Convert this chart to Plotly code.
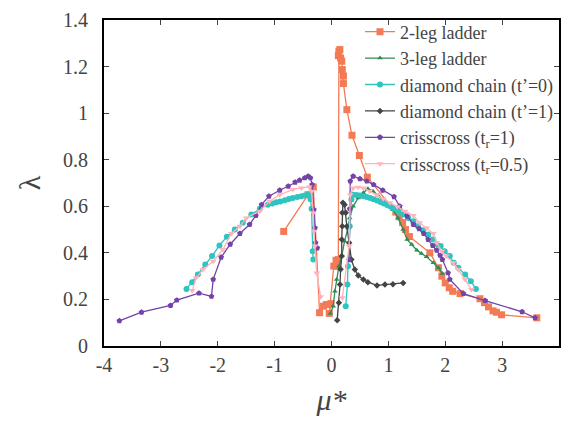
import plotly.graph_objects as go

# 2-leg ladder
x_2leg = [-0.84, -0.41, -0.32, -0.21, -0.14, -0.09, -0.01, -0.04, 0.04, 0.08, 0.10, 0.12,
          0.12, 0.13, 0.147, 0.16, 0.18, 0.19, 0.21, 0.21, 0.27, 0.36, 0.49, 0.63,
          1.13, 1.19, 1.25, 1.30, 1.37, 1.73, 1.88, 1.94, 2.00, 2.07, 2.13, 2.26,
          2.61, 2.69, 2.76, 2.84, 2.90, 2.99, 3.61]
y_2leg = [0.492, 0.650, 0.683, 0.143, 0.171, 0.178, 0.182, 0.140, 0.343, 0.368, 0.343, 0.371,
          1.247, 1.266, 1.273, 1.237, 1.223, 1.187, 1.159, 1.127, 1.015, 0.905, 0.818, 0.725,
          0.575, 0.555, 0.530, 0.500, 0.470, 0.400, 0.336, 0.300, 0.271, 0.250, 0.235, 0.225,
          0.203, 0.186, 0.168, 0.151, 0.145, 0.134, 0.121]

# 3-leg ladder
x_3leg = [-0.02, 0.03, 0.06, 0.09, 0.13, 0.18, 0.23, 0.29, 0.32, 0.38, 0.47, 0.56, 0.64,
          0.73, 0.82, 0.91, 1.00, 1.08, 1.17, 1.26, 1.33, 1.41, 1.50, 1.58, 1.67, 1.79, 1.88, 1.95]
y_3leg = [0.140, 0.171, 0.235, 0.286, 0.343, 0.386, 0.450, 0.507, 0.550, 0.600, 0.636, 0.658, 0.675,
          0.665, 0.646, 0.629, 0.607, 0.585, 0.550, 0.500, 0.457, 0.436, 0.411, 0.397, 0.383, 0.357, 0.336, 0.311]

# diamond chain (t'=0)
x_dc0 = [-2.55, -2.45, -2.35, -2.22, -2.10, -1.97, -1.84, -1.70, -1.56, -1.41, -1.26, -1.12,
         -1.04, -0.97, -0.90, -0.82, -0.75, -0.68, -0.60, -0.53, -0.47, -0.41, -0.37, -0.35, -0.33, -0.32,
         None,
         0.25, 0.28, 0.29, 0.32, 0.35, 0.38, 0.44, 0.50, 0.56, 0.62, 0.68, 0.74, 0.80, 0.86, 0.92,
         0.98, 1.04, 1.10, 1.18, 1.26, 1.35, 1.44, 1.52, 1.61, 1.70, 1.79, 1.85, 1.92, 1.99, 2.08,
         2.15, 2.23, 2.35, 2.45, 2.54]
y_dc0 = [0.245, 0.274, 0.307, 0.350, 0.386, 0.432, 0.469, 0.500, 0.529, 0.565, 0.589, 0.607,
         0.612, 0.617, 0.621, 0.626, 0.631, 0.636, 0.640, 0.643, 0.646, 0.650, 0.630, 0.589, 0.407, 0.371,
         None,
         0.171, 0.264, 0.343, 0.514, 0.629, 0.650, 0.648, 0.646, 0.643, 0.640, 0.636, 0.630, 0.625, 0.618, 0.612,
         0.605, 0.598, 0.590, 0.578, 0.565, 0.550, 0.536, 0.514, 0.497, 0.479, 0.457, 0.436, 0.429, 0.407, 0.386,
         0.357, 0.336, 0.307, 0.278, 0.245]

# diamond chain (t'=1)
x_dc1 = [0.10, 0.13, 0.15, 0.16, 0.18, 0.18, 0.19, 0.19, 0.20, 0.23, 0.25, 0.27, 0.31, 0.35,
         0.41, 0.47, 0.56, 0.64, 0.80, 0.94, 1.08, 1.26]
y_dc1 = [0.111, 0.186, 0.264, 0.330, 0.386, 0.457, 0.514, 0.572, 0.615, 0.607, 0.572, 0.514, 0.443, 0.371,
         0.328, 0.303, 0.286, 0.274, 0.260, 0.264, 0.265, 0.271]

# crisscross (tr=1)
x_cc1 = [-3.73, -3.34, -2.83, -2.72, -2.33, -2.11, -2.08, -1.94, -1.78, -1.61, -1.44, -1.33, -1.23,
         -1.10, -0.91, -0.76, -0.64, -0.56, -0.47, -0.41, -0.37, -0.34, -0.31, -0.29, -0.28, -0.25,
         None,
         0.31, 0.32, 0.33, 0.38, 0.50, 0.62, 0.74, 0.90, 1.10, 1.20, 1.33, 1.44, 1.54, 1.62, 1.70,
         1.78, 1.85, 1.91, 1.95, 2.05, 2.08, 2.32, 2.70, 3.35, 3.58]
y_cc1 = [0.108, 0.145, 0.174, 0.197, 0.227, 0.213, 0.286, 0.381, 0.437, 0.483, 0.522, 0.560, 0.607,
         0.643, 0.669, 0.686, 0.703, 0.712, 0.722, 0.729, 0.722, 0.693, 0.585, 0.507, 0.443, 0.421,
         None,
         0.370, 0.589, 0.708, 0.729, 0.718, 0.708, 0.693, 0.669, 0.641, 0.600, 0.557, 0.522, 0.503, 0.483, 0.457,
         0.431, 0.411, 0.389, 0.371, 0.314, 0.286, 0.225, 0.195, 0.147, 0.121]

# crisscross (tr=0.5)
x_cc05 = [-2.45, -2.38, -2.26, -2.08, -1.91, -1.76, -1.61, -1.50, -1.26, -1.09, -0.91, -0.68, -0.53,
          -0.39, -0.35, -0.32, -0.31, -0.29, -0.26, -0.19,
          None,
          0.19, 0.31, 0.33, 0.38, 0.47, 0.56, 0.67, 0.80, 0.91, 1.03, 1.16, 1.29, 1.44, 1.55, 1.67,
          1.79, 1.85, 1.94, 2.02, 2.14, 2.23, 2.35, 2.46]
y_cc05 = [0.238, 0.293, 0.328, 0.364, 0.414, 0.483, 0.514, 0.550, 0.579, 0.622, 0.650, 0.672, 0.679,
          0.683, 0.665, 0.572, 0.493, 0.429, 0.314, 0.211,
          None,
          0.207, 0.429, 0.650, 0.679, 0.682, 0.679, 0.665, 0.648, 0.632, 0.615, 0.598, 0.579, 0.560, 0.529, 0.507,
          0.483, 0.443, 0.407, 0.386, 0.357, 0.328, 0.286, 0.243]

# tick labels
x_tickvals = [-4, -3, -2, -1, 0, 1, 2, 3, 4]
x_ticktext = ["-4", "-3", "-2", "-1", "0", "1", "2", "3", "4"]
y_tickvals = [0, 0.2, 0.4, 0.6, 0.8, 1.0, 1.2, 1.4]
y_ticktext = ["0\u00a0\u00a0", "0.2\u00a0\u00a0", "0.4\u00a0\u00a0", "0.6\u00a0\u00a0",
              "0.8\u00a0\u00a0", "1\u00a0\u00a0", "1.2\u00a0\u00a0", "1.4\u00a0\u00a0"]

names = ["2-leg ladder", "3-leg ladder", "diamond chain (t\u2019=0)", "diamond chain (t\u2019=1)",
         "crisscross (t<sub>r</sub>=1)", "crisscross (t<sub>r</sub>=0.5)"]
xs = [x_2leg, x_3leg, x_dc0, x_dc1, x_cc1, x_cc05]
ys = [y_2leg, y_3leg, y_dc0, y_dc1, y_cc1, y_cc05]
colors = ["#f47a55", "#2e8b57", "#2ec4c0", "#444444", "#7343a8", "#ffb3ba"]
symbols = ["square", "triangle-up", "circle", "diamond", "pentagon", "triangle-down"]
sizes = [7, 5, 6, 5, 6, 6]

fig = go.Figure()
for n, x, y, c, s, sz in zip(names, xs, ys, colors, symbols, sizes):
    fig.add_trace(go.Scatter(x=x, y=y, name=n, mode="lines+markers",
                             line=dict(color=c, width=1.3),
                             marker=dict(color=c, symbol=s, size=sz)))

fig.update_layout(
    template="none",
    width=555, height=416,
    margin=dict(l=96, r=4, t=12, b=78),
    font=dict(family="Liberation Serif"),
    legend=dict(x=1.0, xanchor="right", y=1.02, yanchor="top",
                bgcolor="rgba(0,0,0,0)",
                font=dict(size=18, family="Liberation Serif")),
    xaxis=dict(range=[-4, 4], tickvals=x_tickvals, ticktext=x_ticktext,
               ticks="inside", ticklen=5,
               showline=True, linecolor="black", linewidth=2, mirror="ticks",
               showgrid=False, zeroline=False,
               tickfont=dict(size=20, family="Liberation Serif"),
               title=dict(text="<i>\u03bc*</i>", font=dict(size=30, family="Liberation Serif"),
                          standoff=14)),
    yaxis=dict(range=[0, 1.4], tickvals=y_tickvals, ticktext=y_ticktext,
               ticks="inside", ticklen=5,
               showline=True, linecolor="black", linewidth=2, mirror="ticks",
               showgrid=False, zeroline=False,
               tickfont=dict(size=20, family="Liberation Serif"),
               title=dict(text="\u03bb", font=dict(size=30, family="Liberation Serif"),
                          standoff=14)),
)

fig.write_html("out.html")
